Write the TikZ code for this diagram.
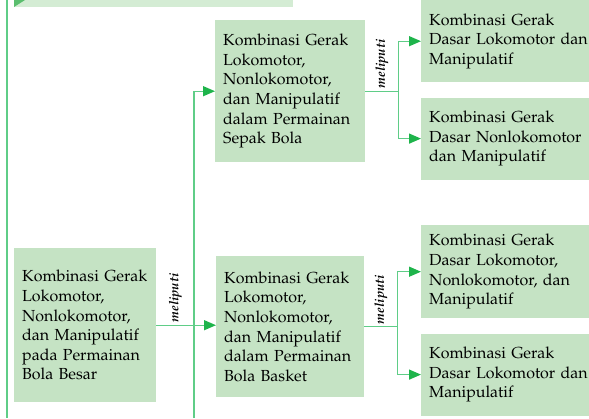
\documentclass[tikz,border=0pt]{standalone}
\usepackage[T1]{fontenc}
\usepackage{mathpazo}
\usetikzlibrary{arrows.meta, positioning}

\hyphenpenalty=10000
\exhyphenpenalty=10000

\definecolor{boxgreen}{RGB}{197,227,196}
\definecolor{linegreen}{RGB}{95,205,135}
\definecolor{tipgreen}{RGB}{30,180,75}
\definecolor{barlight}{RGB}{212,236,212}
\definecolor{bardark}{RGB}{90,190,110}

\tikzset{
	box/.style 2 args = {fill = boxgreen, anchor = north west, inner xsep = 8pt, inner ysep = 0pt,
		text width = #1, minimum height = #2, align = left, font = \fontsize{16}{19.6}\selectfont},
	linkline/.style = {linegreen, line width = 1.4pt},
	feed/.style = {linkline, -{Triangle[length = 12pt, width = 10pt, color = tipgreen]}},
	relword/.style = {rotate = 90, anchor = west, inner sep = 2pt, text = black, font = \fontsize{13}{15}\selectfont\bfseries\itshape}
}

\begin{document}
\begin{tikzpicture}[x = 1pt, y = -1pt]

	\useasboundingbox (0, 0) rectangle (589, 418);

	% Page decoration: side rule and top bar

	\draw [line width = 2.5pt, linegreen] (7, 0) -- (7, 418);
	\fill [barlight] (14, 0) rectangle (293, 7);
	\fill [bardark] (14, 0) -- (25, 0) -- (14, 7) -- cycle;

	% Boxes

	\node [box = {126pt}{154pt}] (main) at (14, 248)
		{Kombinasi Gerak\\ Lokomotor,\\ Nonlokomotor,\\ dan~Manipulatif\\ pada~Permainan\\ Bola Besar};

	\node [box = {134pt}{142pt}] (sepak) at (215, 20)
		{Kombinasi Gerak\\ Lokomotor,\\ Nonlokomotor,\\ dan~Manipulatif\\ dalam~Permainan\\ Sepak Bola};
	\node [box = {132pt}{141pt}] (basket) at (216, 256)
		{Kombinasi Gerak\\ Lokomotor,\\ Nonlokomotor,\\ dan~Manipulatif\\ dalam~Permainan\\ Bola Basket};

	\node [box = {152pt}{82pt}] (sepakA) at (421, 0)
		{Kombinasi Gerak\\ Dasar~Lokomotor~dan\\ Manipulatif};
	\node [box = {152pt}{82pt}, below = 15pt of sepakA] (sepakB)
		{Kombinasi Gerak\\ Dasar~Nonlokomotor\\ dan Manipulatif};

	\node [box = {152pt}{93pt}] (basketA) at (421, 225)
		{Kombinasi Gerak\\ Dasar Lokomotor,\\ Nonlokomotor,~dan\\ Manipulatif};
	\node [box = {152pt}{82pt}, below = 15pt of basketA] (basketB)
		{Kombinasi Gerak\\ Dasar~Lokomotor~dan\\ Manipulatif};

	% Connectors

	\coordinate (trunkfoot) at (194, 418);

	\draw [feed] (main.east) -- node [relword, pos = 0.32] {meliputi} (main.east -| basket.west);
	\draw [feed] (trunkfoot) |- (sepak.west);

	\draw [linkline] (sepak.east) -- node [relword] {meliputi} ++(33, 0) coordinate (forkA);
	\draw [feed] (forkA) |- (sepakA.west);
	\draw [feed] (forkA) |- (sepakB.west);

	\draw [linkline] (basket.east) -- node [relword] {meliputi} ++(33, 0) coordinate (forkB);
	\draw [feed] (forkB) |- (basketA.west);
	\draw [feed] (forkB) |- (basketB.west);

\end{tikzpicture}
\end{document}
